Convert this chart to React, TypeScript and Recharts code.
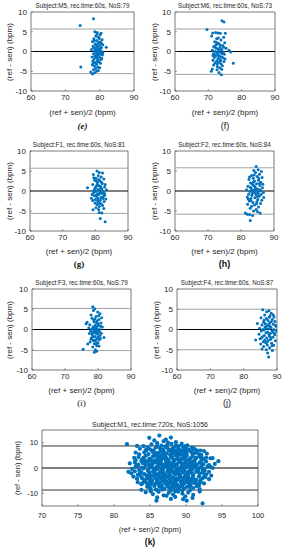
import React from "react";
import {
  ReferenceArea,
  ReferenceLine,
  Scatter,
  ScatterChart,
  XAxis,
  YAxis,
} from "recharts";

document.body.style.margin = "0";

// values: [mean (bpm), difference (bpm)]
const m5Points = [
  [78.2, 8.3], [74.3, 6.6], [74.5, -3.9], [81.9, 1.1], [78.6, 5.0], [79.3, 4.8], [80.4, 4.6], [80.1, 4.2],
  [78.9, 3.9], [79.6, 3.6], [78.3, 3.2], [80.7, 3.0], [79.1, 2.8], [77.9, 2.5], [80.2, 2.4], [79.5, 2.1],
  [78.7, 1.9], [80.9, 1.7], [79.9, 1.5], [78.1, 1.3], [79.3, 1.2], [80.5, 1.0], [78.8, 0.8], [79.7, 0.7],
  [77.6, 0.5], [80.1, 0.4], [79.2, 0.3], [78.5, 0.1], [80.6, 0.0], [79.8, -0.1], [78.9, -0.2], [79.4, -0.4],
  [80.3, -0.5], [78.2, -0.6], [79.0, -0.8], [80.8, -0.9], [79.6, -1.0], [78.6, -1.2], [77.8, -1.4], [80.0, -1.5],
  [79.2, -1.7], [78.4, -1.9], [80.4, -2.0], [79.5, -2.2], [78.0, -2.4], [79.8, -2.6], [78.7, -2.8], [80.2, -3.0],
  [79.1, -3.2], [77.9, -3.4], [78.5, -3.7], [79.4, -3.9], [80.0, -4.1], [78.8, -4.3], [78.2, -4.6], [79.6, -4.8],
  [77.4, -5.2], [78.5, -5.4], [79.1, -5.0], [77.9, -5.7], [78.9, 0.5], [79.7, -0.3], [80.3, 0.9], [79.0, 1.6],
  [78.4, 2.7], [79.9, 3.3], [80.6, -1.8], [78.1, -3.0], [79.3, -2.5], [80.9, -0.3], [78.7, 0.2], [79.5, 0.0],
  [80.1, -0.7], [79.0, -1.3], [78.3, 0.9], [79.8, 2.4], [80.5, 2.0], [79.2, 4.4],
];

const m6Points = [
  [74.1, 7.8], [74.7, 7.5], [69.6, 5.6], [77.5, -3.0], [76.7, -0.1], [76.2, 0.3], [70.9, -5.0], [73.9, -5.9],
  [73.2, -5.3], [72.6, -4.6], [71.3, 4.7], [72.2, 4.8], [72.9, 4.7], [73.6, 4.6], [75.1, 4.6], [71.0, 3.9],
  [74.6, 3.6], [72.5, 3.2], [73.8, 2.9], [71.9, 2.5], [74.9, 2.2], [73.1, 2.0], [72.4, 1.7], [74.3, 1.5],
  [71.6, 1.2], [73.5, 1.0], [75.3, 0.8], [72.8, 0.7], [74.0, 0.5], [71.2, 0.3], [73.3, 0.2], [72.1, 0.0],
  [74.5, -0.1], [73.7, -0.3], [72.6, -0.4], [71.5, -0.6], [74.8, -0.7], [73.0, -0.9], [72.3, -1.1], [73.9, -1.3],
  [71.8, -1.5], [74.4, -1.6], [72.9, -1.8], [73.5, -2.0], [71.4, -2.2], [72.5, -2.4], [74.7, -2.5], [73.2, -2.7],
  [72.0, -2.9], [73.8, -3.1], [71.6, -3.4], [74.2, -3.6], [72.7, -3.8], [73.4, -4.1], [71.2, -4.4], [74.0, -4.5],
  [72.2, 0.9], [73.6, 1.6], [72.8, -0.2], [74.1, -0.5], [73.1, 0.4], [71.9, -0.8], [72.5, 2.3], [74.6, 1.1],
  [73.3, -1.2], [72.0, 1.4], [73.0, 3.4], [71.4, -1.0], [75.0, -1.9], [72.7, -3.1], [73.7, -2.3],
];

const f1Points = [
  [77.6, 0.8], [81.5, -6.9], [83.0, -7.7], [79.3, -4.7], [82.0, -5.5], [81.2, -5.4], [80.5, 5.0], [81.2, 4.6],
  [82.2, 4.5], [79.4, 4.1], [80.9, 3.8], [81.8, 3.5], [80.2, 3.2], [82.6, 3.0], [79.8, 2.7], [81.4, 2.5],
  [80.6, 2.2], [82.1, 1.9], [79.2, 1.6], [81.0, 1.4], [80.3, 1.2], [82.8, 1.0], [81.6, 0.8], [79.9, 0.6],
  [80.8, 0.4], [83.4, 0.3], [81.3, 0.1], [80.1, -0.1], [82.4, -0.2], [79.5, -0.4], [81.9, -0.6], [80.7, -0.7],
  [81.1, -0.9], [82.9, -1.0], [79.7, -1.2], [80.4, -1.4], [81.7, -1.6], [78.8, -1.8], [82.3, -1.9], [80.0, -2.1],
  [81.5, -2.3], [79.2, -2.4], [82.7, -2.6], [80.9, -2.8], [79.9, -3.0], [81.8, -3.2], [80.5, -3.4], [82.2, -3.6],
  [81.2, -3.9], [80.2, -4.2], [82.6, -4.4], [81.0, -4.6], [79.6, 0.2], [80.6, 1.7], [81.4, -0.3], [82.0, 0.5],
  [80.3, -1.0], [81.1, 2.9], [79.0, -0.9], [82.5, -1.3], [81.6, 1.2], [80.8, -1.9], [83.2, -2.0], [80.0, 0.9],
  [81.9, 2.2], [79.5, 3.3], [82.8, -0.6], [80.7, -2.5], [81.3, -3.1], [83.0, 1.6], [80.4, 2.5],
];

const f2Points = [
  [84.6, 6.1], [82.8, -7.4], [81.3, -5.5], [81.9, -5.8], [82.6, -5.9], [85.8, -5.5], [83.5, -6.1], [86.2, 4.9],
  [85.2, 5.3], [83.9, 5.1], [84.4, 4.6], [85.6, 4.2], [83.2, 3.9], [84.9, 3.6], [86.4, 3.4], [83.7, 3.2],
  [82.4, 2.9], [85.3, 2.7], [84.1, 2.5], [86.0, 2.2], [82.9, 2.0], [84.7, 1.8], [83.5, 1.6], [85.7, 1.4],
  [82.1, 1.2], [84.3, 1.0], [86.5, 0.8], [83.1, 0.6], [85.0, 0.5], [81.7, 0.3], [84.0, 0.2], [85.9, 0.0],
  [82.7, -0.1], [83.8, -0.3], [86.8, -0.4], [85.2, -0.6], [82.3, -0.8], [84.5, -0.9], [83.3, -1.1], [86.9, -1.6],
  [85.5, -1.3], [81.9, -1.5], [84.2, -1.7], [83.0, -1.9], [85.1, -2.1], [86.3, -2.3], [82.5, -2.5], [84.8, -2.7],
  [83.6, -2.9], [85.9, -3.1], [82.0, -3.3], [84.1, -3.5], [83.2, -3.8], [85.3, -4.0], [82.8, -4.3], [84.6, -4.6],
  [83.8, -5.0], [85.0, -5.2], [84.4, 0.6], [83.4, -0.6], [85.6, 1.9], [82.9, 0.9], [84.9, -1.4], [83.9, 1.3],
  [86.1, -0.9], [82.6, 3.5], [84.0, 4.0], [85.4, 3.1], [83.0, -2.4], [84.7, -3.2], [85.8, 0.3], [83.7, 2.2],
  [82.2, -2.0], [84.3, -0.3], [86.6, 1.7], [83.5, 0.1], [85.1, -0.2],
];

const f3Points = [
  [78.4, 5.6], [79.0, 5.1], [78.6, 4.7], [79.9, 4.3], [80.6, 3.9], [77.9, 3.6], [81.1, 2.9], [79.4, 3.2],
  [78.2, 2.8], [80.3, 2.5], [76.4, 1.4], [76.7, 1.8], [79.7, 2.1], [78.8, 1.9], [80.9, 1.6], [77.5, 1.2],
  [79.2, 1.1], [80.1, 0.9], [78.5, 0.7], [81.3, 0.6], [77.2, 0.4], [79.6, 0.3], [78.1, 0.1], [80.5, 0.0],
  [79.0, -0.2], [77.8, -0.3], [80.2, -0.4], [78.7, -0.6], [79.5, -0.7], [81.0, -0.9], [77.4, -1.0], [79.9, -1.2],
  [78.3, -1.3], [80.6, -1.5], [79.1, -1.7], [81.8, -2.0], [78.0, -2.1], [79.7, -2.3], [80.4, -2.5], [78.6, -2.7],
  [79.3, -2.9], [77.6, -3.1], [80.0, -3.3], [78.9, -3.5], [76.9, -3.6], [79.6, -4.0], [78.4, -4.3], [80.3, -4.1],
  [75.5, -4.9], [78.9, -5.6], [79.6, -5.4], [79.2, -5.0], [79.8, -0.1], [78.9, 0.4], [80.1, 1.4], [79.3, -0.9],
  [80.7, -2.2], [78.4, -1.8], [79.6, 1.7], [80.4, -0.6], [78.7, 2.4], [79.4, 0.6], [80.0, -1.9], [78.2, -0.8],
  [79.1, 2.6], [80.8, 0.8], [77.9, -2.4], [79.5, -3.6], [80.2, 3.4], [79.0, -2.6],
];

const f4Points = [
  [85.7, 4.9], [86.9, 4.4], [87.6, 4.6], [88.3, 4.0], [86.3, 3.6], [87.9, 3.4], [89.1, 3.1], [85.2, 2.9],
  [86.8, 2.7], [88.6, 2.5], [87.3, 2.2], [89.4, 2.0], [84.1, 1.5], [86.0, 1.8], [87.8, 1.6], [88.9, 1.3],
  [85.5, 1.1], [87.0, 0.9], [89.7, 0.8], [86.4, 0.6], [88.2, 0.5], [84.8, 0.3], [87.5, 0.2], [89.0, 0.0],
  [86.1, -0.1], [88.5, -0.3], [85.3, -0.4], [87.2, -0.6], [89.8, -0.2], [86.7, -0.8], [88.0, -1.0], [84.6, -1.2],
  [89.3, -1.3], [86.2, -1.5], [87.7, -1.6], [85.6, -1.8], [88.8, -1.9], [86.9, -2.1], [84.9, -2.3], [88.1, -2.4],
  [83.6, -2.6], [87.4, -2.7], [89.5, -2.8], [85.9, -3.0], [86.6, -3.3], [88.4, -3.4], [85.1, -3.6], [87.1, -3.8],
  [89.0, -3.9], [86.0, -4.2], [87.8, -4.5], [85.5, -4.8], [86.8, -5.0], [88.6, -5.2], [87.5, -6.8], [87.2, -5.8],
  [86.3, -2.6], [87.9, 0.8], [88.7, -0.6], [86.5, 1.4], [87.6, -1.2], [88.3, 1.9], [85.8, 0.0], [89.2, -0.9],
  [87.0, -3.1], [88.9, 3.6], [86.1, 2.3], [87.4, 1.2], [88.1, -2.0], [85.3, -2.1], [89.6, 1.0], [87.7, 3.0],
  [86.7, 0.3], [88.5, -4.0], [90.0, -0.5],
];

const m1Points = [
  [81.8, 9.4], [83.2, 8.7], [84.9, 11.9], [86.3, 12.8], [87.9, 12.0], [84.1, 8.6], [86.9, 10.6], [85.6, 10.9],
  [88.6, 10.2], [89.4, 9.6], [87.2, 11.2], [90.2, 8.9], [86.0, 9.8], [85.2, 9.3], [88.0, 9.5], [87.5, 10.0],
  [89.0, 8.6], [86.6, 8.8], [84.7, 8.2], [91.1, 7.8],
  [85.0, 7.4], [85.8, 8.1], [86.4, 7.6], [87.1, 8.4], [87.7, 7.2], [88.3, 8.0], [88.9, 7.5], [89.6, 8.3],
  [90.3, 7.3], [90.8, 8.0], [91.5, 7.0], [84.4, 7.1], [86.0, 8.6], [87.4, 7.9], [88.6, 8.7], [89.2, 7.1],
  [90.0, 7.8], [85.5, 7.0], [86.8, 7.3], [88.1, 7.6], [89.9, 8.6], [91.0, 7.4], [92.0, 6.9], [83.6, 7.6],
  [84.2, 6.2], [84.8, 5.5], [85.3, 6.7], [85.9, 5.9], [86.5, 6.4], [87.0, 5.3], [87.6, 6.8], [88.2, 5.8],
  [88.7, 6.5], [89.3, 5.4], [89.8, 6.1], [90.4, 6.9], [90.9, 5.6], [91.5, 6.3], [92.1, 5.2], [92.5, 6.7],
  [92.9, 5.7], [83.5, 5.4], [84.5, 6.9], [85.6, 5.1], [86.2, 6.0], [86.9, 6.6], [87.3, 5.7], [88.0, 6.3],
  [88.9, 5.1], [89.5, 6.7], [90.1, 5.5], [90.7, 6.4], [91.2, 5.9], [91.8, 5.4], [83.0, 6.1], [86.0, 5.5],
  [88.4, 6.9], [89.1, 6.0], [87.8, 5.2],
  [83.4, 4.3], [83.9, 3.4], [84.4, 4.8], [84.9, 3.7], [85.4, 4.5], [85.9, 3.1], [86.4, 4.0], [86.9, 4.9],
  [87.4, 3.5], [87.9, 4.4], [88.4, 3.2], [88.9, 4.7], [89.4, 3.8], [89.9, 4.3], [90.4, 3.3], [90.9, 4.6],
  [91.4, 3.9], [91.9, 4.4], [92.4, 3.5], [93.4, 3.8], [93.7, 3.9], [83.0, 3.1], [84.1, 4.0], [85.1, 3.2],
  [85.7, 4.9], [86.6, 3.6], [87.2, 4.2], [88.1, 3.9], [88.6, 4.9], [89.2, 3.3], [90.1, 4.8], [90.6, 3.8],
  [91.2, 3.1], [92.1, 4.8], [92.8, 4.1], [86.1, 4.4], [87.6, 3.0], [89.7, 3.6],
  [82.9, 2.2], [83.4, 1.3], [83.8, 2.8], [84.3, 1.7], [84.7, 2.5], [85.2, 1.1], [85.6, 2.9], [86.1, 1.9],
  [86.5, 2.6], [87.0, 1.4], [87.4, 2.3], [87.9, 1.0], [88.3, 2.7], [88.8, 1.6], [89.2, 2.4], [89.7, 1.2],
  [90.1, 2.9], [90.6, 1.8], [91.0, 2.5], [91.5, 1.3], [91.9, 2.1], [92.4, 1.5], [92.8, 2.6], [93.2, 1.1],
  [94.5, 2.7], [83.1, 1.0], [84.0, 2.0], [84.9, 1.4], [85.8, 2.2], [86.7, 1.2], [87.6, 2.0], [88.5, 1.3],
  [89.4, 1.9], [90.3, 1.4], [91.2, 2.0], [92.1, 2.8], [86.3, 2.9], [88.1, 2.0], [89.9, 2.2], [90.8, 1.1],
  [87.2, 2.8], [85.4, 1.8],
  [82.5, -0.4], [83.0, 0.5], [83.5, -0.8], [83.9, 0.2], [84.4, 0.9], [84.8, -0.5], [85.3, 0.3], [85.7, -0.9],
  [86.2, 0.7], [86.6, -0.2], [87.1, 0.6], [87.5, -0.7], [88.0, 0.1], [88.4, 0.8], [88.9, -0.4], [89.3, 0.4],
  [89.8, -0.9], [90.2, 0.6], [90.7, -0.1], [91.1, 0.9], [91.6, -0.6], [92.0, 0.3], [92.5, -0.3], [93.0, 0.7],
  [93.4, 0.5], [84.1, -0.2], [85.0, 0.6], [86.0, -0.5], [86.9, 0.2], [87.8, -0.3], [88.7, 0.5], [89.6, -0.1],
  [90.5, 0.9], [91.4, 0.2], [92.3, -0.8], [83.3, 0.8], [85.5, -0.1], [87.3, 0.9], [89.1, -0.8], [90.9, -0.5],
  [82.4, -2.1], [82.9, -1.3], [83.3, -2.7], [83.8, -1.6], [84.2, -2.4], [84.7, -1.1], [85.1, -2.9], [85.6, -1.8],
  [86.0, -2.5], [86.5, -1.2], [86.9, -2.2], [87.4, -1.5], [87.8, -2.8], [88.3, -1.9], [88.7, -1.3], [89.2, -2.6],
  [89.6, -1.7], [90.1, -2.3], [90.5, -1.0], [91.0, -2.7], [91.4, -1.5], [91.9, -2.2], [92.3, -1.8], [92.8, -2.5],
  [83.6, -2.0], [84.5, -2.9], [85.4, -1.4], [86.3, -2.0], [87.2, -2.9], [88.1, -1.2], [89.0, -2.1], [89.9, -2.9],
  [90.8, -1.9], [91.7, -1.2], [92.6, -1.0], [86.7, -1.8], [88.5, -2.5], [90.3, -1.6], [84.9, -1.9], [87.6, -1.1],
  [82.7, -3.4], [83.2, -4.2], [83.7, -3.1], [84.2, -4.7], [84.6, -3.6], [85.1, -4.4], [85.5, -3.2], [86.0, -4.9],
  [86.4, -3.8], [86.9, -4.3], [87.3, -3.3], [87.8, -4.6], [88.2, -3.7], [88.7, -4.1], [89.1, -3.2], [89.6, -4.8],
  [90.0, -3.5], [90.5, -4.4], [90.9, -3.9], [91.4, -4.6], [91.8, -3.3], [92.3, -4.0], [92.7, -3.6], [93.2, -4.4],
  [83.9, -4.0], [84.9, -3.1], [85.8, -4.1], [86.7, -3.1], [87.6, -3.9], [88.5, -4.9], [89.4, -3.9], [90.3, -3.1],
  [91.2, -4.9], [92.0, -4.8], [85.3, -4.9], [87.1, -4.8], [88.9, -4.6], [90.7, -4.9], [86.2, -3.4], [89.8, -3.6],
  [83.3, -5.6], [83.8, -6.4], [84.3, -5.2], [84.8, -6.8], [85.2, -5.8], [85.7, -6.3], [86.1, -5.3], [86.6, -6.9],
  [87.0, -5.7], [87.5, -6.5], [87.9, -5.1], [88.4, -6.0], [88.8, -6.7], [89.3, -5.5], [89.7, -6.2], [90.2, -5.2],
  [90.6, -6.8], [91.1, -5.9], [91.5, -6.4], [92.0, -5.4], [92.5, -6.1], [84.0, -5.9], [85.0, -5.1], [85.9, -6.0],
  [86.8, -5.1], [87.7, -5.9], [88.6, -5.3], [89.5, -6.9], [90.4, -5.9], [91.3, -5.3], [86.3, -6.6], [88.1, -6.8],
  [89.9, -5.7], [84.6, -6.1], [91.8, -6.9], [87.3, -5.4],
  [83.8, -8.6], [84.6, -7.4], [85.1, -8.2], [85.6, -7.1], [86.1, -8.8], [86.5, -7.6], [87.0, -8.3], [87.4, -7.2],
  [87.9, -8.9], [88.3, -7.8], [88.8, -8.4], [89.2, -7.3], [89.7, -8.1], [90.1, -7.5], [90.6, -8.7], [91.0, -7.9],
  [91.5, -7.2], [85.8, -8.5], [86.8, -7.9], [87.7, -8.0], [88.6, -7.1], [89.5, -8.8], [90.4, -7.0], [84.9, -7.7],
  [91.9, -8.3], [86.3, -7.2], [88.0, -7.5], [89.0, -8.1],
  [84.4, -9.6], [85.4, -10.3], [86.2, -9.4], [86.9, -10.8], [87.6, -9.8], [88.2, -10.5], [88.9, -9.3], [89.5, -10.1],
  [90.3, -9.7], [91.0, -10.6], [91.9, -9.3], [86.0, -11.6], [85.9, -12.9], [88.5, -11.4], [89.6, -12.3], [90.1, -12.9],
  [90.9, -11.8], [92.3, -14.0], [87.3, -11.0], [85.1, -9.2], [89.9, -11.2], [87.9, -12.2],
  [93.7, 0.0], [93.2, -1.5], [94.0, 1.6], [82.8, 4.0], [82.2, 1.8], [93.5, -3.0], [82.0, -1.5],
  // dense centre of the cloud
  [86.3, 1.5], [86.8, -0.9], [87.3, 1.7], [87.7, -1.9], [88.2, 1.4], [88.6, -0.7], [89.0, 2.9], [89.5, -1.3],
  [89.9, 0.2], [90.3, -2.6], [87.0, 3.8], [87.5, -3.6], [88.0, 4.6], [88.4, -4.3], [88.8, 3.6], [89.2, -3.5],
  [89.7, 4.9], [90.1, -4.1], [86.6, -4.4], [86.1, 3.3], [85.7, -2.6], [85.3, 2.6], [90.6, 2.3], [91.0, -3.2],
  [91.4, 4.1], [91.7, -0.2], [87.9, -5.6], [88.7, 5.5], [89.4, -6.1], [86.9, 6.0], [87.8, 7.0], [88.9, -7.6],
  [86.4, -5.9], [90.5, -7.4], [90.0, 6.6], [85.4, 6.3], [84.6, -4.1], [84.3, 3.0], [92.2, 1.1], [92.6, -2.9],
  [87.1, -6.2], [88.2, 7.3], [89.8, 7.4], [86.7, -8.5], [88.5, -9.2], [87.4, 9.1], [85.9, 0.4], [91.3, 0.5],
  [89.5, 0.9], [87.6, 0.5], [88.8, -2.2], [86.5, 4.9], [90.6, -5.6], [85.1, -6.6], [91.9, -5.9], [92.2, 3.9],
];

const smallXTicks = [60, 70, 80, 90];
const smallYTicks = [-10, -5, 0, 5, 10];
const wideXTicks = [70, 75, 80, 85, 90, 95, 100];
const wideYTicks = [-10, 0, 10];

const BLUE = "#0072BD";
const TEXT = "#262626";
const SANS = "'Liberation Sans', Arial, sans-serif";
const SERIF = "'Liberation Serif', 'Times New Roman', serif";

interface PanelProps {
  left: number;
  top: number;
  width: number;
  height: number;
  xDomain: [number, number];
  xTicks: number[];
  yDomain: [number, number];
  yTicks: number[];
  loa: [number, number];
  loaColor: string;
  points: number[][];
  title: string;
  titleY: number;
  titleSize: number;
  labelSize: number;
  tickSize: number;
  xTickGap: number;
  xLabelY: number;
  yLabelX: number;
  tag: string;
  tagY: number;
  tagStyle: React.CSSProperties;
  r: number;
}

const YW = 26;
const XH = 20;
const PAD = 4;
const PAD_R = 12;

const Panel: React.FC<PanelProps> = (p) => {
  const data = p.points.map(([x, y]) => ({ x, y }));
  const cx = p.left + p.width / 2;
  const textBase: React.CSSProperties = {
    position: "absolute",
    whiteSpace: "nowrap",
    color: TEXT,
    fontFamily: SANS,
    lineHeight: 1,
    transform: "translate(-50%, -50%)",
  };

  return (
    <>
      <div style={{ position: "absolute", left: p.left - YW, top: p.top - PAD }}>
        <ScatterChart
          width={p.width + YW + PAD_R}
          height={p.height + PAD + XH}
          margin={{ top: PAD, right: PAD_R, bottom: 0, left: 0 }}
        >
          <XAxis
            type="number"
            dataKey="x"
            domain={p.xDomain}
            ticks={p.xTicks}
            allowDataOverflow
            height={XH}
            axisLine={false}
            tickLine={{ stroke: "#555", strokeWidth: 0.6 }}
            tickSize={-2}
            tickMargin={p.xTickGap}
            tick={{ fontSize: p.tickSize, fill: TEXT, fontFamily: SANS }}
            interval={0}
          />
          <YAxis
            type="number"
            dataKey="y"
            domain={p.yDomain}
            ticks={p.yTicks}
            allowDataOverflow
            width={YW}
            axisLine={false}
            tickLine={{ stroke: "#555", strokeWidth: 0.6 }}
            tickSize={-2}
            tickMargin={6}
            tick={{ fontSize: p.tickSize, fill: TEXT, fontFamily: SANS }}
            interval={0}
          />
          <ReferenceLine y={p.loa[0]} stroke={p.loaColor} strokeWidth={1} />
          <ReferenceLine y={p.loa[1]} stroke={p.loaColor} strokeWidth={1} />
          <ReferenceLine y={0} stroke="#000" strokeWidth={1.2} />
          <Scatter
            data={data}
            isAnimationActive={false}
            shape={(s: any) => <circle cx={s.cx} cy={s.cy} r={p.r} fill={BLUE} />}
          />
          <ReferenceArea
            x1={p.xDomain[0]}
            x2={p.xDomain[1]}
            y1={p.yDomain[0]}
            y2={p.yDomain[1]}
            fill="none"
            fillOpacity={0}
            stroke="#555"
            strokeWidth={0.8}
          />
        </ScatterChart>
      </div>
      <div style={{ ...textBase, left: cx, top: p.titleY, fontSize: p.titleSize }}>{p.title}</div>
      <div style={{ ...textBase, left: cx, top: p.xLabelY, fontSize: p.labelSize }}>
        (ref + sen)/2 (bpm)
      </div>
      <div
        style={{
          ...textBase,
          left: p.yLabelX,
          top: p.top + p.height / 2,
          fontSize: p.labelSize,
          transform: "translate(-50%, -50%) rotate(-90deg)",
        }}
      >
        (ref - sen) (bpm)
      </div>
      <div style={{ ...textBase, left: cx, top: p.tagY, color: "#111", ...p.tagStyle }}>{p.tag}</div>
    </>
  );
};

const small = {
  xDomain: [60, 90] as [number, number],
  xTicks: smallXTicks,
  yDomain: [-10, 10] as [number, number],
  yTicks: smallYTicks,
  loaColor: "#a3a3a3",
  titleSize: 6.3,
  labelSize: 8,
  tickSize: 8,
  xTickGap: 5,
  r: 1.5,
};

export default function App() {
  return (
    <div style={{ position: "relative", width: 284, height: 550, background: "#fff", overflow: "hidden" }}>
      <Panel {...small} left={31} top={12} width={103} height={79} loa={[5.7, -5.6]} points={m5Points}
        title="Subject:M5, rec.time:60s, NoS:79" titleY={6} xLabelY={113} yLabelX={10}
        tag="(e)" tagY={126} tagStyle={{ fontFamily: SERIF, fontStyle: "italic", fontWeight: 700, fontSize: 9 }} />
      <Panel {...small} left={175} top={12} width={100} height={79} loa={[5.7, -5.8]} points={m6Points}
        title="Subject:M6, rec.time:60s, NoS:73" titleY={6} xLabelY={113} yLabelX={155}
        tag="(f)" tagY={126} tagStyle={{ fontSize: 9 }} />
      <Panel {...small} left={30} top={151} width={98} height={80} loa={[5.7, -5.6]} points={f1Points}
        title="Subject:F1, rec.time:60s, NoS:81" titleY={145} xLabelY={252} yLabelX={10}
        tag="(g)" tagY={264} tagStyle={{ fontFamily: SERIF, fontWeight: 700, fontSize: 9 }} />
      <Panel {...small} left={175} top={151} width={99} height={80} loa={[5.8, -5.8]} points={f2Points}
        title="Subject:F2, rec.time:60s, NoS:84" titleY={145} xLabelY={252} yLabelX={155}
        tag="(h)" tagY={264} tagStyle={{ fontWeight: 700, fontSize: 9 }} />
      <Panel {...small} left={32} top={289} width={99} height={81} loa={[5.2, -5.2]} points={f3Points}
        title="Subject:F3, rec.time:60s, NoS:79" titleY={283} xLabelY={391} yLabelX={10}
        tag="(i)" tagY={403} tagStyle={{ fontFamily: SERIF, fontSize: 9 }} />
      <Panel {...small} left={177} top={289} width={100} height={81} loa={[5.0, -5.0]} points={f4Points}
        title="Subject:F4, rec.time:60s, NoS:87" titleY={283} xLabelY={391} yLabelX={157}
        tag="(j)" tagY={403} tagStyle={{ fontSize: 9 }} />
      <Panel
        xDomain={[70, 100]} xTicks={wideXTicks} yDomain={[-15, 15]} yTicks={wideYTicks}
        loaColor="#333" titleSize={7} labelSize={7.5} tickSize={7.5} xTickGap={9} r={2.1}
        left={42} top={430} width={216} height={76} loa={[8.7, -8.7]} points={m1Points}
        title="Subject:M1, rec.time:720s, NoS:1056" titleY={424} xLabelY={530} yLabelX={18}
        tag="(k)" tagY={542} tagStyle={{ fontWeight: 700, fontSize: 8.5 }} />
    </div>
  );
}
